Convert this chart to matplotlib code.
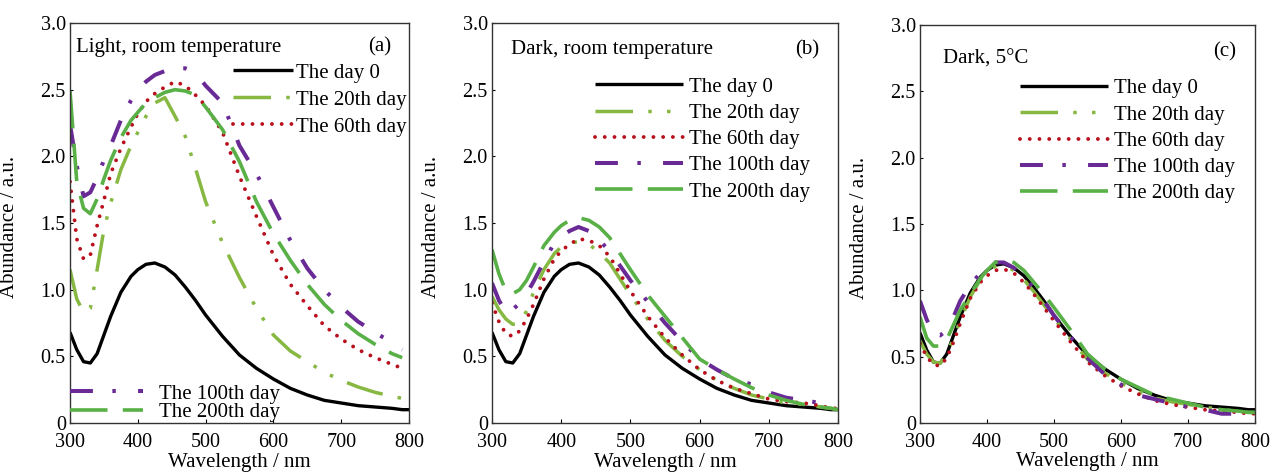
import numpy as np
import matplotlib
matplotlib.use("Agg")
import matplotlib.pyplot as plt
from matplotlib.ticker import FuncFormatter

plt.rcParams['font.family'] = ['Liberation Serif', 'DejaVu Serif']
plt.rcParams['lines.scale_dashes'] = False

nan = np.nan
wavelength = [300, 310, 320, 330, 340, 350, 360, 375, 390, 400, 412, 425, 440, 455, 470,
              485, 500, 525, 550, 575, 600, 625, 650, 675, 700, 725, 750, 775, 790, 800]

series_labels = ["The day 0", "The 20th day", "The 60th day", "The 100th day", "The 200th day"]

day0 = [0.68, 0.55, 0.46, 0.45, 0.52, 0.66, 0.80, 0.98, 1.10, 1.15, 1.19, 1.20, 1.17, 1.11, 1.02,
        0.92, 0.81, 0.65, 0.51, 0.41, 0.33, 0.26, 0.21, 0.17, 0.15, 0.13, 0.12, 0.11, 0.10, 0.10]

# (a) Light, room temperature
a_day20 = [1.15, 0.93, 0.83, 0.86, 1.15, 1.45, 1.65, 1.90, 2.08, 2.18, 2.30, 2.40, 2.44, 2.30, 2.15,
           1.91, 1.66, 1.35, 1.09, 0.86, 0.66, 0.54, 0.46, 0.38, 0.32, 0.27, 0.23, 0.20, 0.185, nan]
a_day60 = [1.81, 1.38, 1.23, 1.26, 1.48, 1.67, 1.87, 2.06, 2.22, 2.32, 2.41, 2.47, 2.52, 2.56, 2.53,
           2.46, 2.38, 2.18, 1.85, 1.55, 1.26, 1.04, 0.88, 0.73, 0.63, 0.55, 0.49, 0.44, 0.41, nan]
a_day100 = [2.24, 1.93, 1.70, 1.73, 1.84, 1.97, 2.08, 2.27, 2.42, 2.50, 2.56, 2.61, 2.64, 2.66, 2.66,
            2.63, 2.53, 2.40, 2.08, 1.87, 1.62, 1.37, 1.16, 1.00, 0.87, 0.76, 0.68, 0.60, 0.55, nan]
a_day200 = [2.49, 1.81, 1.61, 1.57, 1.68, 1.83, 1.97, 2.14, 2.27, 2.33, 2.40, 2.44, 2.48, 2.50, 2.49,
            2.46, 2.37, 2.20, 1.96, 1.66, 1.42, 1.22, 1.04, 0.89, 0.77, 0.67, 0.59, 0.52, 0.49, nan]

# (b) Dark, room temperature
b_day20 = [0.95, 0.85, 0.78, 0.74, 0.75, 0.84, 0.98, 1.15, 1.27, 1.32, 1.35, 1.36, 1.34, 1.28, 1.20,
           1.08, 0.96, 0.78, 0.62, 0.50, 0.40, 0.32, 0.26, 0.21, 0.18, 0.15, 0.14, 0.12, 0.11, 0.10]
b_day60 = [0.90, 0.76, 0.67, 0.65, 0.69, 0.78, 0.89, 1.08, 1.23, 1.29, 1.34, 1.38, 1.37, 1.33, 1.25,
           1.12, 0.99, 0.80, 0.64, 0.51, 0.40, 0.32, 0.26, 0.22, 0.18, 0.16, 0.15, 0.13, 0.11, 0.11]
b_day100 = [1.05, 0.92, 0.83, 0.85, 0.90, 0.97, 1.06, 1.21, 1.35, 1.40, 1.44, 1.47, 1.44, 1.37, 1.29,
            1.18, 1.07, 0.91, 0.75, 0.61, 0.48, 0.40, 0.33, 0.29, 0.23, 0.19, 0.17, 0.15, nan, nan]
b_day200 = [1.30, 1.12, 0.99, 0.97, 1.00, 1.07, 1.17, 1.33, 1.43, 1.48, 1.52, 1.54, 1.52, 1.47, 1.39,
            1.27, 1.15, 0.96, 0.80, 0.64, 0.48, 0.40, 0.33, 0.265, 0.21, 0.17, 0.14, 0.12, 0.11, 0.10]

# (c) Dark, 5 C
c_day20 = [0.62, 0.52, 0.46, 0.45, 0.52, 0.64, 0.77, 0.95, 1.08, 1.14, 1.18, 1.19, 1.15, 1.08, 0.99,
           0.89, 0.79, 0.63, 0.48, 0.38, 0.30, 0.24, 0.19, 0.16, 0.14, 0.12, 0.10, 0.09, 0.08, 0.08]
c_day60 = [0.60, 0.50, 0.44, 0.43, 0.49, 0.61, 0.75, 0.94, 1.06, 1.11, 1.15, 1.16, 1.13, 1.06, 0.97,
           0.87, 0.77, 0.61, 0.46, 0.36, 0.28, 0.22, 0.17, 0.14, 0.12, 0.10, 0.09, 0.08, 0.07, 0.07]
c_day100 = [0.92, 0.78, 0.67, 0.66, 0.70, 0.80, 0.92, 1.04, 1.13, 1.18, 1.21, 1.21, 1.17, 1.10, 1.02,
            0.92, 0.81, 0.65, 0.49, 0.37, 0.29, 0.21, 0.18, 0.15, 0.12, 0.10, 0.07, 0.07, 0.08, nan]
c_day200 = [0.80, 0.64, 0.58, 0.58, 0.63, 0.74, 0.85, 0.97, 1.09, 1.15, 1.21, 1.23, 1.21, 1.15, 1.06,
            0.97, 0.87, 0.70, 0.52, 0.41, 0.33, 0.27, 0.21, 0.18, 0.15, 0.12, 0.10, 0.09, 0.08, 0.08]

panel_titles = ["Light, room temperature", "Dark, room temperature", "Dark, 5°C"]
panel_tags = ["(a)", "(b)", "(c)"]
x_ticks = [300, 400, 500, 600, 700, 800]
y_ticks = [0, 0.5, 1.0, 1.5, 2.0, 2.5, 3.0]

styles = [
    dict(color='black', lw=2.4, ls='-'),
    dict(color='#86b842', lw=2.5, ls=(0, (27, 11, 2.5, 11, 2.5, 11))),
    dict(color='#b8101c', lw=2.8, ls=(0, (0.01, 7.0)), dash_capstyle='round'),
    dict(color='#6a2a96', lw=2.9, ls=(0, (16.5, 14, 2.5, 16))),
    dict(color='#58b046', lw=2.6, ls=(0, (27, 11))),
]

panels = [
    [day0, a_day20, a_day60, a_day100, a_day200],
    [day0, b_day20, b_day60, b_day100, b_day200],
    [day0, c_day20, c_day60, c_day100, c_day200],
]

fig = plt.figure(figsize=(12.72, 4.75), dpi=100)
W, H = 1272, 475
boxes = [(70, 409, 23, 423), (492, 838, 23, 423), (920, 1255, 25, 423)]
FS = 15

def yfmt(v, _):
    return "0" if abs(v) < 1e-9 else f"{v:.1f}"

for i, (box, data) in enumerate(zip(boxes, panels)):
    l, r, t, b = box
    ax = fig.add_axes([l / W, 1 - b / H, (r - l) / W, (b - t) / H])
    lines = []
    for vals, st in zip(data, styles):
        ln, = ax.plot(wavelength, vals, solid_capstyle='butt', **st)
        lines.append(ln)
    ax.set_xlim(300, 800)
    ax.set_ylim(0, 3.0)
    ax.set_xticks(x_ticks)
    ax.set_yticks(y_ticks)
    ax.yaxis.set_major_formatter(FuncFormatter(yfmt))
    ax.tick_params(axis='x', direction='in', length=3, width=0.8, pad=7, labelsize=14.5)
    ax.tick_params(axis='y', direction='in', length=2, width=0.8, pad=3, labelsize=14.5)
    for sp in ax.spines.values():
        sp.set_linewidth(1.0)
        sp.set_color('#333333')
    ax.set_xlabel("Wavelength / nm", fontsize=FS)
    ax.xaxis.set_label_coords(0.5, -0.074)
    ax.set_ylabel("Abundance / a.u.", fontsize=FS)
    ax.yaxis.set_label_coords(-0.15 * 339 / (r - l), 0.49)

    if i == 0:
        ax.text(0.018, 0.94, panel_titles[i], transform=ax.transAxes, fontsize=FS, va='center', ha='left')
        ax.text(0.915, 0.94, panel_tags[i], transform=ax.transAxes, fontsize=FS, va='center', ha='center')
        leg1 = ax.legend(lines[:3], series_labels[:3], loc='upper left', bbox_to_anchor=(0.481, 0.90),
                         frameon=False, fontsize=FS, handlelength=2.9, handletextpad=0.1,
                         labelspacing=0.36, borderpad=0, borderaxespad=0)
        ax.add_artist(leg1)
        ax.legend(lines[3:], series_labels[3:], loc='upper left', bbox_to_anchor=(0.0, 0.097),
                  frameon=False, fontsize=FS, handlelength=3.5, handletextpad=0.75,
                  labelspacing=-0.05, borderpad=0, borderaxespad=0)
    else:
        tx = 0.055 if i == 1 else 0.069
        ty = 0.933 if i == 1 else 0.915
        ax.text(tx, ty, panel_titles[i], transform=ax.transAxes, fontsize=FS, va='center', ha='left')
        ax.text(0.91, 0.933, panel_tags[i], transform=ax.transAxes, fontsize=FS, va='center', ha='center')
        lx = 0.298 if i == 1 else 0.30
        ax.legend(lines, series_labels, loc='upper left', bbox_to_anchor=(lx, 0.865),
                  frameon=False, fontsize=FS, handlelength=4.2, handletextpad=0.3,
                  labelspacing=0.32, borderpad=0, borderaxespad=0)

fig.savefig("out.png", dpi=100)
